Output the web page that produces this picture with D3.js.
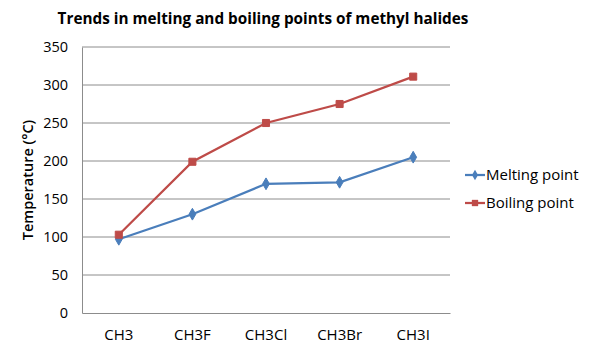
<!DOCTYPE html>
<html>
<head>
<meta charset="utf-8">
<script src="https://cdn.jsdelivr.net/npm/d3@7"></script>
<style>
  body { margin: 0; background: white; }
  text { font-family: "Open Sans", "DejaVu Sans", sans-serif; }
</style>
</head>
<body>
<div id="chart"></div>
<script>
// chart data
const categories = ["CH3", "CH3F", "CH3Cl", "CH3Br", "CH3I"];
const meltingPoint = [97, 130, 170, 172, 205];
const boilingPoint = [103, 199, 250, 275, 311];
const yTicks = [0, 50, 100, 150, 200, 250, 300, 350];

let width = 590;
let height = 360;
let margin = {
    top: 47,
    bottom: 47,
    left: 82,
    right: 140
};

let svg = d3.select('#chart')
            .append('svg')
            .attr('width', width)
            .attr('height', height)
            .style('background', 'white');

let xScale = d3.scaleBand()
              .domain(categories)
              .range([margin.left, width - margin.right]);

let yScale = d3.scaleLinear()
              .domain([0, 350])
              .range([height - margin.bottom, margin.top]);

// gridlines
svg.append('g')
    .selectAll('line')
    .data(yTicks.filter(d => d > 0))
    .enter()
    .append('line')
    .attr('x1', margin.left)
    .attr('x2', width - margin.right)
    .attr('y1', d => yScale(d))
    .attr('y2', d => yScale(d))
    .attr('stroke', '#8c8c8c')
    .attr('stroke-width', 1);

// y axis
let yAxis = svg.append('g')
            .attr('transform', `translate(${margin.left}, 0)`)
            .call(d3.axisLeft(yScale).tickValues(yTicks).tickSize(0).tickPadding(14));
yAxis.select('.domain').attr('stroke', '#8c8c8c');
yAxis.selectAll('text').style('font-size', '14.5px').attr('fill', '#000');

// x axis
let xAxis = svg.append('g')
            .attr('transform', `translate(0, ${height - margin.bottom})`)
            .call(d3.axisBottom(xScale).tickSize(0).tickPadding(16));
xAxis.select('.domain').attr('stroke', '#8c8c8c');
xAxis.selectAll('text').style('font-size', '15px').attr('fill', '#000');

// title
svg.append('text')
    .attr('x', 263)
    .attr('y', 24)
    .attr('text-anchor', 'middle')
    .style('font-size', '15.3px')
    .style('font-weight', 'bold')
    .text('Trends in melting and boiling points of methyl halides');

// y axis title
svg.append('text')
    .attr('transform', `translate(33, ${(margin.top + height - margin.bottom) / 2}) rotate(-90)`)
    .attr('text-anchor', 'middle')
    .style('font-size', '14.5px')
    .style('font-weight', '600')
    .text('Temperature (°C)');

const series = [
    { name: 'Melting point', values: meltingPoint, color: '#4a7ebb', symbol: d3.symbolDiamond, size: 40 },
    { name: 'Boiling point', values: boilingPoint, color: '#be4b48', symbol: d3.symbolSquare, size: 50 }
];

let line = d3.line()
    .x((d, i) => xScale(categories[i]) + xScale.bandwidth() / 2)
    .y(d => yScale(d));

series.forEach(s => {
    svg.append('path')
        .datum(s.values)
        .attr('fill', 'none')
        .attr('stroke', s.color)
        .attr('stroke-width', 2.25)
        .attr('d', line);

    svg.append('g')
        .selectAll('path')
        .data(s.values)
        .enter()
        .append('path')
        .attr('d', d3.symbol().type(s.symbol).size(s.size))
        .attr('transform', (d, i) => `translate(${xScale(categories[i]) + xScale.bandwidth() / 2}, ${yScale(d)})`)
        .attr('fill', s.color)
        .attr('stroke', s.color);
});

// legend
const legend = svg.append('g')
    .attr('transform', 'translate(465, 175)');
series.forEach((s, i) => {
    legend.append('line')
        .attr('x1', 0)
        .attr('x2', 20)
        .attr('y1', i * 28)
        .attr('y2', i * 28)
        .attr('stroke', s.color)
        .attr('stroke-width', 2.25);
    legend.append('path')
        .attr('d', d3.symbol().type(s.symbol).size(s.size * 0.8))
        .attr('transform', `translate(10, ${i * 28})`)
        .attr('fill', s.color);
    legend.append('text')
        .attr('x', 21)
        .attr('y', i * 28)
        .attr('dy', '0.35em')
        .style('font-size', '15px')
        .text(s.name);
});
</script>
</body>
</html>
